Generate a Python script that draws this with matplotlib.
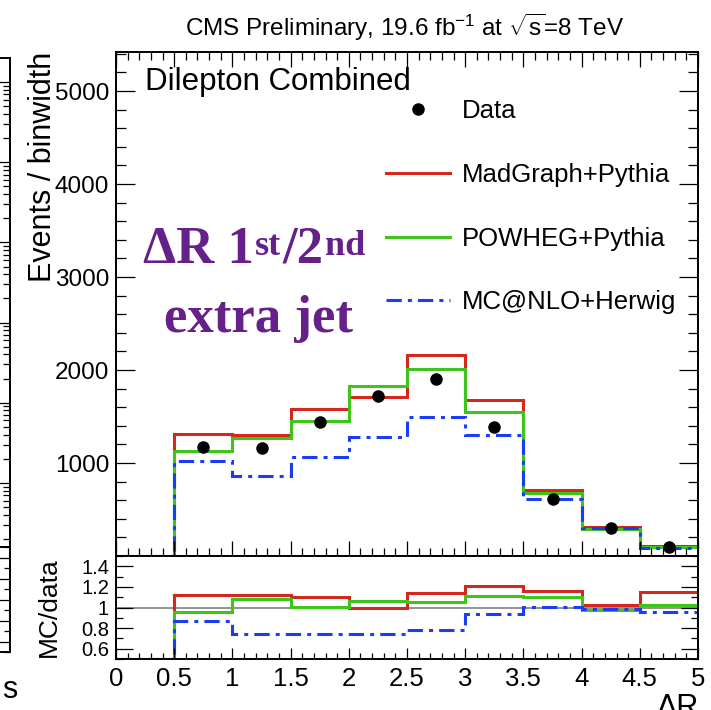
import numpy as np
import matplotlib
matplotlib.use("Agg")
import matplotlib.pyplot as plt
from matplotlib.ticker import MultipleLocator, FixedLocator, FixedFormatter, LogLocator, NullFormatter

plt.rcParams['font.family'] = ['Liberation Sans', 'DejaVu Sans']
plt.rcParams['mathtext.fontset'] = 'custom'
plt.rcParams['mathtext.rm'] = 'Liberation Sans'
plt.rcParams['mathtext.it'] = 'Liberation Sans:italic'

# Delta R between 1st and 2nd extra jet, bins of 0.5
bin_edges = [0, 0.5, 1, 1.5, 2, 2.5, 3, 3.5, 4, 4.5, 5]
data     = [0, 1175, 1165, 1441, 1724, 1900, 1391, 613, 301, 93]
madgraph = [0, 1312, 1301, 1581, 1713, 2161, 1677, 710, 308, 107]
powheg   = [0, 1129, 1265, 1452, 1832, 2007, 1545, 674, 294, 95]
mcatnlo  = [0, 1021, 864, 1068, 1276, 1491, 1301, 616, 297, 89]

labels = ['MadGraph+Pythia', 'POWHEG+Pythia', 'MC@NLO+Herwig']
colors = ['#d2281e', '#3fc41c', '#1a3cf5']
styles = ['-', '-', (0, (5, 2, 1.3, 2))]

y_ticks = [1000, 2000, 3000, 4000, 5000]
r_ticks = [0.6, 0.8, 1.0, 1.2, 1.4]
r_tick_labels = ['0.6', '0.8', '1', '1.2', '1.4']
x_ticks = [0, 0.5, 1, 1.5, 2, 2.5, 3, 3.5, 4, 4.5, 5]
x_tick_labels = ['0', '0.5', '1', '1.5', '2', '2.5', '3', '3.5', '4', '4.5', '5']

W, H = 711, 710
fig = plt.figure(figsize=(W / 100, H / 100), dpi=100)


def box(x0, y0, x1, y1):
    # pixel box -> figure fraction
    return [x0 / W, 1 - y1 / H, (x1 - x0) / W, (y1 - y0) / H]


ax = fig.add_axes(box(116, 52, 698, 556))
axr = fig.add_axes(box(116, 556, 698, 659), sharex=ax)

edges = np.array(bin_edges)
centers = 0.5 * (edges[:-1] + edges[1:])
d = np.array(data, dtype=float)
mc_sets = [np.array(madgraph, float), np.array(powheg, float), np.array(mcatnlo, float)]

handles = []
pt, = ax.plot(centers[d > 0], d[d > 0], 'o', color='black', ms=8, zorder=5, label='Data')
handles.append(pt)
for vals, lab, col, ls in zip(mc_sets, labels, colors, styles):
    h = ax.stairs(vals, edges, baseline=None, color=col, lw=2.2, ls=ls, label=lab)
    handles.append(h)
    ratio = np.where(d > 0, vals / np.where(d > 0, d, 1), 0)
    axr.stairs(np.maximum(ratio, 0.5), edges, baseline=None, color=col, lw=2.2, ls=ls)

axr.axhline(1, color='#8a8a8a', lw=1.3, zorder=0)

ax.set_xlim(0, 5)
ax.set_ylim(0, 5420)
axr.set_ylim(0.5, 1.5)

for a in (ax, axr):
    for s in a.spines.values():
        s.set_linewidth(1.4)

ax.yaxis.set_major_locator(FixedLocator(y_ticks))
ax.yaxis.set_minor_locator(MultipleLocator(200))
ax.xaxis.set_major_locator(FixedLocator(x_ticks))
ax.xaxis.set_minor_locator(MultipleLocator(0.1))
ax.tick_params(which='both', direction='in', top=True, right=True, labelbottom=False, width=0.9)
ax.tick_params(axis='y', which='major', length=14, labelsize=17.5, pad=5)
ax.tick_params(axis='y', which='minor', length=7)
ax.tick_params(axis='x', which='major', length=11)
ax.tick_params(axis='x', which='minor', length=6)

axr.yaxis.set_major_locator(FixedLocator(r_ticks))
axr.yaxis.set_major_formatter(FixedFormatter(r_tick_labels))
axr.yaxis.set_minor_locator(MultipleLocator(0.1))
axr.xaxis.set_major_formatter(FixedFormatter(x_tick_labels))
axr.tick_params(which='both', direction='in', top=False, right=True, width=0.9)
axr.tick_params(axis='y', which='major', length=12, labelsize=14.5, pad=5)
axr.tick_params(axis='y', which='minor', length=5)
axr.tick_params(axis='x', which='major', length=8, labelsize=18.5, pad=6)
axr.tick_params(axis='x', which='minor', length=4)

ax.set_ylabel('Events / binwidth', loc='top', fontsize=22)
ax.yaxis.set_label_coords(-0.1, 1.0)
axr.set_ylabel('MC/data', fontsize=19)
axr.yaxis.set_label_coords(-0.095, 0.5)

fig.text(698 / W, 1 - 693 / H, 'ΔR', fontsize=22, ha='right', va='top')
fig.text(2 / W, 1 - 690 / H, 's', fontsize=22, ha='left', va='center')

fig.text(405 / W, 1 - 27 / H, r'CMS Preliminary, 19.6 fb$^{\mathrm{-1}}$ at $\sqrt{\mathrm{s}}$=8 TeV',
         fontsize=17.5, ha='center', va='center')
ax.text(145 / W, 1 - 82 / H, 'Dilepton Combined', fontsize=22.5, ha='left', va='center',
        transform=fig.transFigure)

ax.legend(handles=handles, loc='upper left', bbox_to_anchor=((386 - 116) / 582, (556 - 99) / 504),
          frameon=False, fontsize=18.5, borderpad=0, borderaxespad=0, handlelength=2.5,
          handletextpad=0.45, labelspacing=1.55, numpoints=1)

# purple overlay annotation
purple = '#65208a'
serif = dict(family='Liberation Serif', weight='bold', color=purple)
t1 = fig.text(143 / W, 1 - 263 / H, 'ΔR 1', fontsize=38, va='baseline', ha='left', **serif)
t2 = ax.annotate('st', xy=(1, 1), xycoords=t1, xytext=(1, -3), textcoords='offset points',
                 fontsize=26, va='top', ha='left', **serif)
t3 = ax.annotate('/2', xy=(1, 0), xycoords=(t2, t1), xytext=(1, 0), textcoords='offset points',
                 fontsize=38, va='bottom', ha='left', **serif)
ax.annotate('nd', xy=(1, 1), xycoords=(t3, t1), xytext=(1, -3), textcoords='offset points',
            fontsize=26, va='top', ha='left', **serif)
fig.text(258 / W, 1 - 332 / H, 'extra jet', fontsize=38, va='baseline', ha='center', **serif)

# edge of the neighbouring plot, cut off at the left
axl = fig.add_axes(box(-80, 58, 10, 547))
axl2 = fig.add_axes(box(-80, 547, 10, 652))
for a in (axl, axl2):
    a.spines['left'].set_visible(False)
    for s in ('top', 'right', 'bottom'):
        a.spines[s].set_linewidth(1.4)
    a.set_xticks([])
    a.yaxis.tick_right()
    a.tick_params(which='both', direction='in', labelright=False, width=0.9)
axl.set_yscale('log')
axl.set_ylim(10 ** -0.8, 10 ** 5.3)
axl.yaxis.set_major_locator(LogLocator(base=10))
axl.yaxis.set_minor_locator(LogLocator(base=10, subs=np.arange(2, 10)))
axl.yaxis.set_minor_formatter(NullFormatter())
axl.tick_params(which='major', length=8)
axl.tick_params(which='minor', length=5)
axl2.set_ylim(0.5, 1.5)
axl2.yaxis.set_major_locator(MultipleLocator(0.2))
axl2.yaxis.set_minor_locator(MultipleLocator(0.1))
axl2.tick_params(which='major', length=8)
axl2.tick_params(which='minor', length=4)

fig.savefig('out.png', dpi=100)
